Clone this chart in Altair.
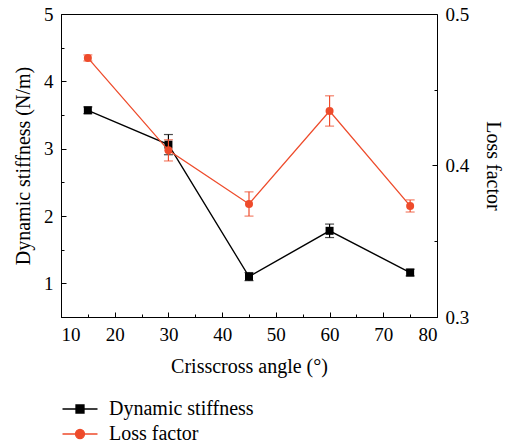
import altair as alt
import pandas as pd

angles = [15, 30, 45, 60, 75]
stiffness = [3.57, 3.06, 1.10, 1.78, 1.16]
stiffness_err = [0.05, 0.15, 0.06, 0.10, 0.05]
loss = [0.471, 0.410, 0.3746, 0.436, 0.3733]
loss_err = [0.002, 0.007, 0.008, 0.010, 0.004]
series_names = ["Dynamic stiffness", "Loss factor"]

x_ticks = [10, 20, 30, 40, 50, 60, 70, 80]
x_minor = [15, 25, 35, 45, 55, 65, 75]
yl_ticks = [1, 2, 3, 4, 5]
yl_minor = [1.5, 2.5, 3.5, 4.5]
yr_ticks = [0.3, 0.4, 0.5]
yr_minor = [0.35, 0.45]

RED = "#EE4B2B"
FONT = "Liberation Serif, Times New Roman, DejaVu Serif, serif"
LFS = 19   # tick labels
TFS = 20   # titles and legend

df = pd.DataFrame({
    "angle": angles,
    "stiff": stiffness,
    "stiff_lo": [v - e for v, e in zip(stiffness, stiffness_err)],
    "stiff_hi": [v + e for v, e in zip(stiffness, stiffness_err)],
    "loss": loss,
    "loss_lo": [v - e for v, e in zip(loss, loss_err)],
    "loss_hi": [v + e for v, e in zip(loss, loss_err)],
})

XS = alt.Scale(domain=[10, 80], nice=False, zero=False)
YL = alt.Scale(domain=[0.5, 5], nice=False, zero=False)
YR = alt.Scale(domain=[0.3, 0.5], nice=False, zero=False)

def tick_axis(orient, values, size):
    return alt.Axis(orient=orient, values=values, ticks=True, tickSize=size, offset=-size,
                    tickColor="black", tickWidth=1, labels=False, domain=False, grid=False, title=None)

x_main = alt.Axis(orient="bottom", values=x_ticks, ticks=False, grid=False, domain=True,
                  labelFont=FONT, labelFontSize=LFS, labelColor="black", labelPadding=8,
                  title="Crisscross angle (°)", titleFont=FONT, titleFontSize=TFS,
                  titleFontWeight="normal", titleColor="black", titlePadding=12)
yl_main = alt.Axis(orient="left", values=yl_ticks, ticks=False, grid=False, domain=True,
                   labelFont=FONT, labelFontSize=LFS, labelColor="black", labelPadding=8,
                   title="Dynamic stiffness (N/m)", titleFont=FONT, titleFontSize=TFS,
                   titleFontWeight="normal", titleColor="black", titlePadding=10)
yr_main = alt.Axis(orient="right", values=yr_ticks, format=".1f", ticks=False, grid=False, domain=True,
                   labelFont=FONT, labelFontSize=LFS, labelColor="black", labelPadding=8,
                   title="Loss factor", titleFont=FONT, titleFontSize=TFS,
                   titleFontWeight="normal", titleColor="black", titlePadding=14)

base = alt.Chart(df)
X = lambda axis: alt.X("angle:Q", scale=XS, axis=axis)

stiff_line = base.mark_line(color="black", strokeWidth=1.3).encode(
    x=X(x_main), y=alt.Y("stiff:Q", scale=YL, axis=yl_main))
stiff_pts = base.mark_point(shape="square", filled=True, color="black", size=64, opacity=1).encode(
    x=X(tick_axis("bottom", x_ticks, 5)), y=alt.Y("stiff:Q", scale=YL, axis=tick_axis("left", yl_ticks, 5)))
stiff_rule = base.mark_rule(color="black", strokeWidth=1.2).encode(
    x=X(tick_axis("bottom", x_minor, 3)),
    y=alt.Y("stiff_lo:Q", scale=YL, axis=tick_axis("left", yl_minor, 3)), y2="stiff_hi:Q")
stiff_cap_lo = base.mark_tick(color="black", size=9, thickness=1.2, orient="horizontal").encode(
    x=X(None), y=alt.Y("stiff_lo:Q", scale=YL, axis=None))
stiff_cap_hi = base.mark_tick(color="black", size=9, thickness=1.2, orient="horizontal").encode(
    x=X(None), y=alt.Y("stiff_hi:Q", scale=YL, axis=None))

loss_line = base.mark_line(color=RED, strokeWidth=1.3).encode(
    x=X(None), y=alt.Y("loss:Q", scale=YR, axis=yr_main))
loss_pts = base.mark_point(shape="circle", filled=True, color=RED, size=64, opacity=1).encode(
    x=X(None), y=alt.Y("loss:Q", scale=YR, axis=tick_axis("right", [0.4], 5)))
loss_rule = base.mark_rule(color=RED, strokeWidth=1.2).encode(
    x=X(None), y=alt.Y("loss_lo:Q", scale=YR, axis=tick_axis("right", yr_minor, 3)), y2="loss_hi:Q")
loss_cap_lo = base.mark_tick(color=RED, size=9, thickness=1.2, orient="horizontal").encode(
    x=X(None), y=alt.Y("loss_lo:Q", scale=YR, axis=None))
loss_cap_hi = base.mark_tick(color=RED, size=9, thickness=1.2, orient="horizontal").encode(
    x=X(None), y=alt.Y("loss_hi:Q", scale=YR, axis=None))

sq_path = "M-3.5,0H3.5M-0.8,-0.8H0.8V0.8H-0.8Z"
ci_path = "M-3.5,0H3.5M0.9,0A0.9,0.9 0 1 1 -0.9,0A0.9,0.9 0 1 1 0.9,0Z"
leg = alt.Legend(title=None, orient="none", legendX=9, legendY=385, symbolSize=100,
                 symbolStrokeWidth=1.3, labelFont=FONT, labelFontSize=TFS, labelColor="black",
                 labelOffset=19, rowPadding=5, labelLimit=400)
legend_layer = alt.Chart(pd.DataFrame({"series": series_names})).transform_filter("false").mark_point(
    filled=True, opacity=1).encode(
    shape=alt.Shape("series:N", scale=alt.Scale(domain=series_names, range=[sq_path, ci_path]), legend=leg),
    fill=alt.Fill("series:N", scale=alt.Scale(domain=series_names, range=["black", RED]), legend=leg),
    stroke=alt.Stroke("series:N", scale=alt.Scale(domain=series_names, range=["black", RED]), legend=leg),
)

chart = alt.layer(
    stiff_line, stiff_rule, stiff_cap_lo, stiff_cap_hi, stiff_pts,
    loss_line, loss_rule, loss_cap_lo, loss_cap_hi, loss_pts,
    legend_layer,
).resolve_scale(y="independent", x="independent").resolve_axis(y="independent", x="independent").properties(
    width=376, height=303,
    autosize=alt.AutoSizeParams(type="none"),
    padding={"left": 61, "top": 14, "right": 68, "bottom": 130},
).configure_view(stroke="black", strokeWidth=1).configure_axis(domainColor="black", domainWidth=1)

chart.save("out.html", embed_options={"renderer": "svg", "actions": False})
